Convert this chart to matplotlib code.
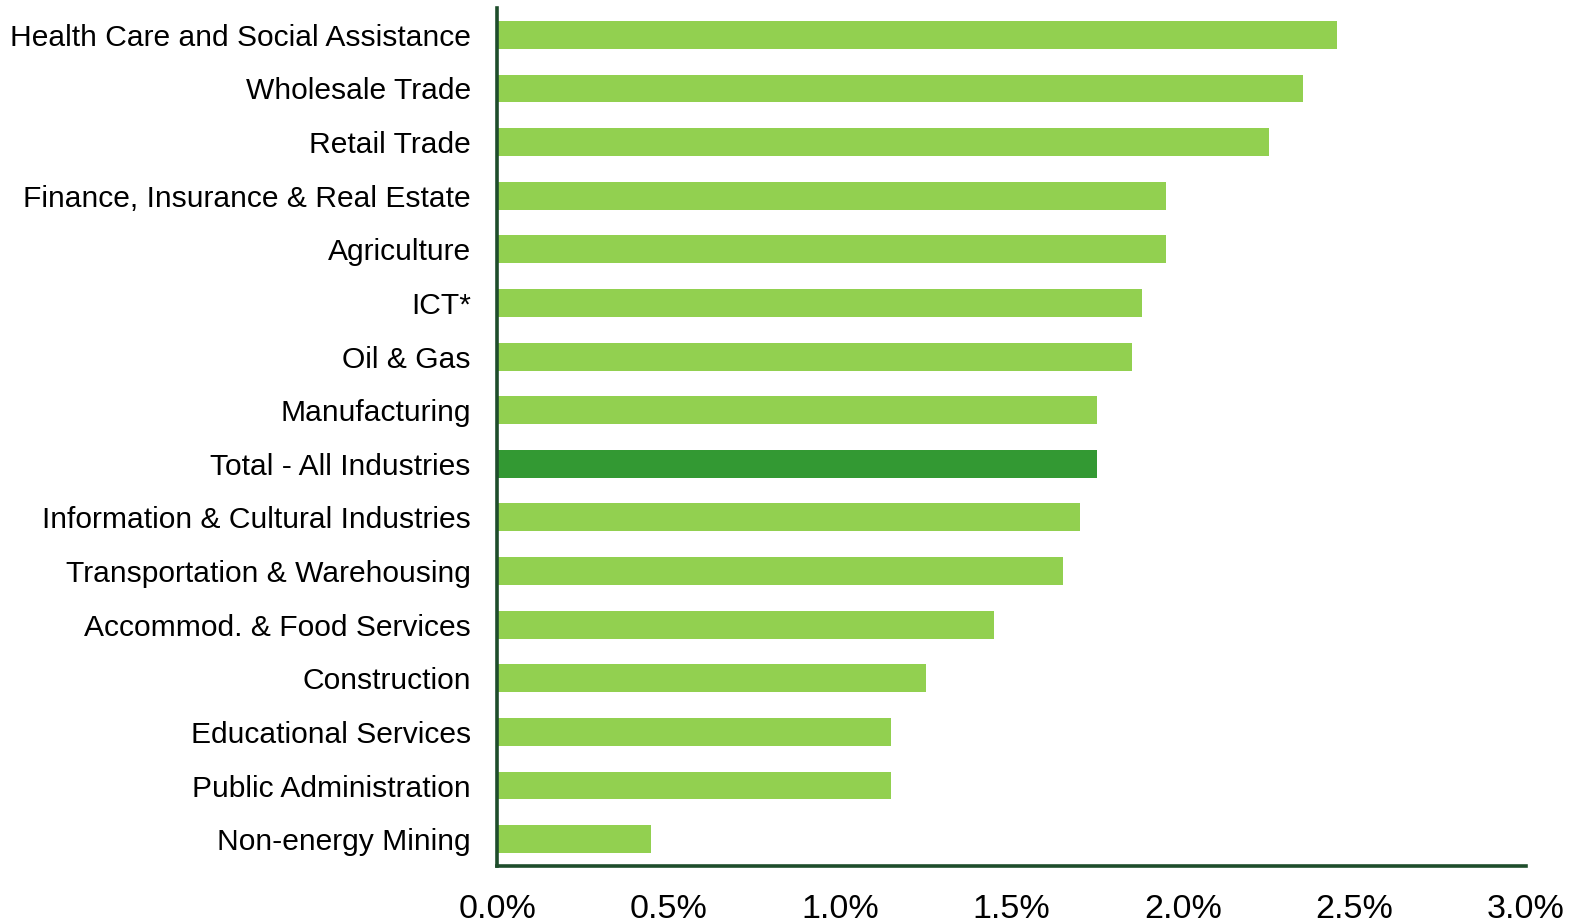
import matplotlib
matplotlib.use("Agg")
import matplotlib.pyplot as plt
from matplotlib.ticker import FuncFormatter

plt.rcParams['font.family'] = ['Liberation Sans', 'DejaVu Sans']

industries = [
    "Health Care and Social Assistance",
    "Wholesale Trade",
    "Retail Trade",
    "Finance, Insurance & Real Estate",
    "Agriculture",
    "ICT*",
    "Oil & Gas",
    "Manufacturing",
    "Total - All Industries",
    "Information & Cultural Industries",
    "Transportation & Warehousing",
    "Accommod. & Food Services",
    "Construction",
    "Educational Services",
    "Public Administration",
    "Non-energy Mining",
]
growth_pct = [2.45, 2.35, 2.25, 1.95, 1.95, 1.88, 1.85, 1.75, 1.75, 1.70,
              1.65, 1.45, 1.25, 1.15, 1.15, 0.45]
x_ticks = [0.0, 0.5, 1.0, 1.5, 2.0, 2.5, 3.0]

light_green = "#92D050"
dark_green = "#339933"
axis_color = "#1E4D2B"

colors = [dark_green if name.startswith("Total") else light_green for name in industries]

fig = plt.figure(figsize=(15.78, 9.23), dpi=100)
ax = fig.add_axes([0.315, 0.0618, 0.652, 0.9295])

y = list(range(len(industries)))
ax.barh(y, growth_pct, height=0.52, color=colors, edgecolor="none")

ax.set_ylim(len(industries) - 0.5, -0.5)
ax.set_xlim(0, 3.0)
ax.set_yticks(y)
ax.set_yticklabels(industries, fontsize=21.6)
ax.set_xticks(x_ticks)
ax.xaxis.set_major_formatter(FuncFormatter(lambda v, _: f"{v:.1f}%"))
ax.tick_params(axis="x", length=0, labelsize=24.5, pad=20)
ax.tick_params(axis="y", length=0, pad=19)

for side in ("top", "right"):
    ax.spines[side].set_visible(False)
for side in ("left", "bottom"):
    ax.spines[side].set_color(axis_color)
    ax.spines[side].set_linewidth(2.6)

fig.savefig("out.png", dpi=100, facecolor="white")
